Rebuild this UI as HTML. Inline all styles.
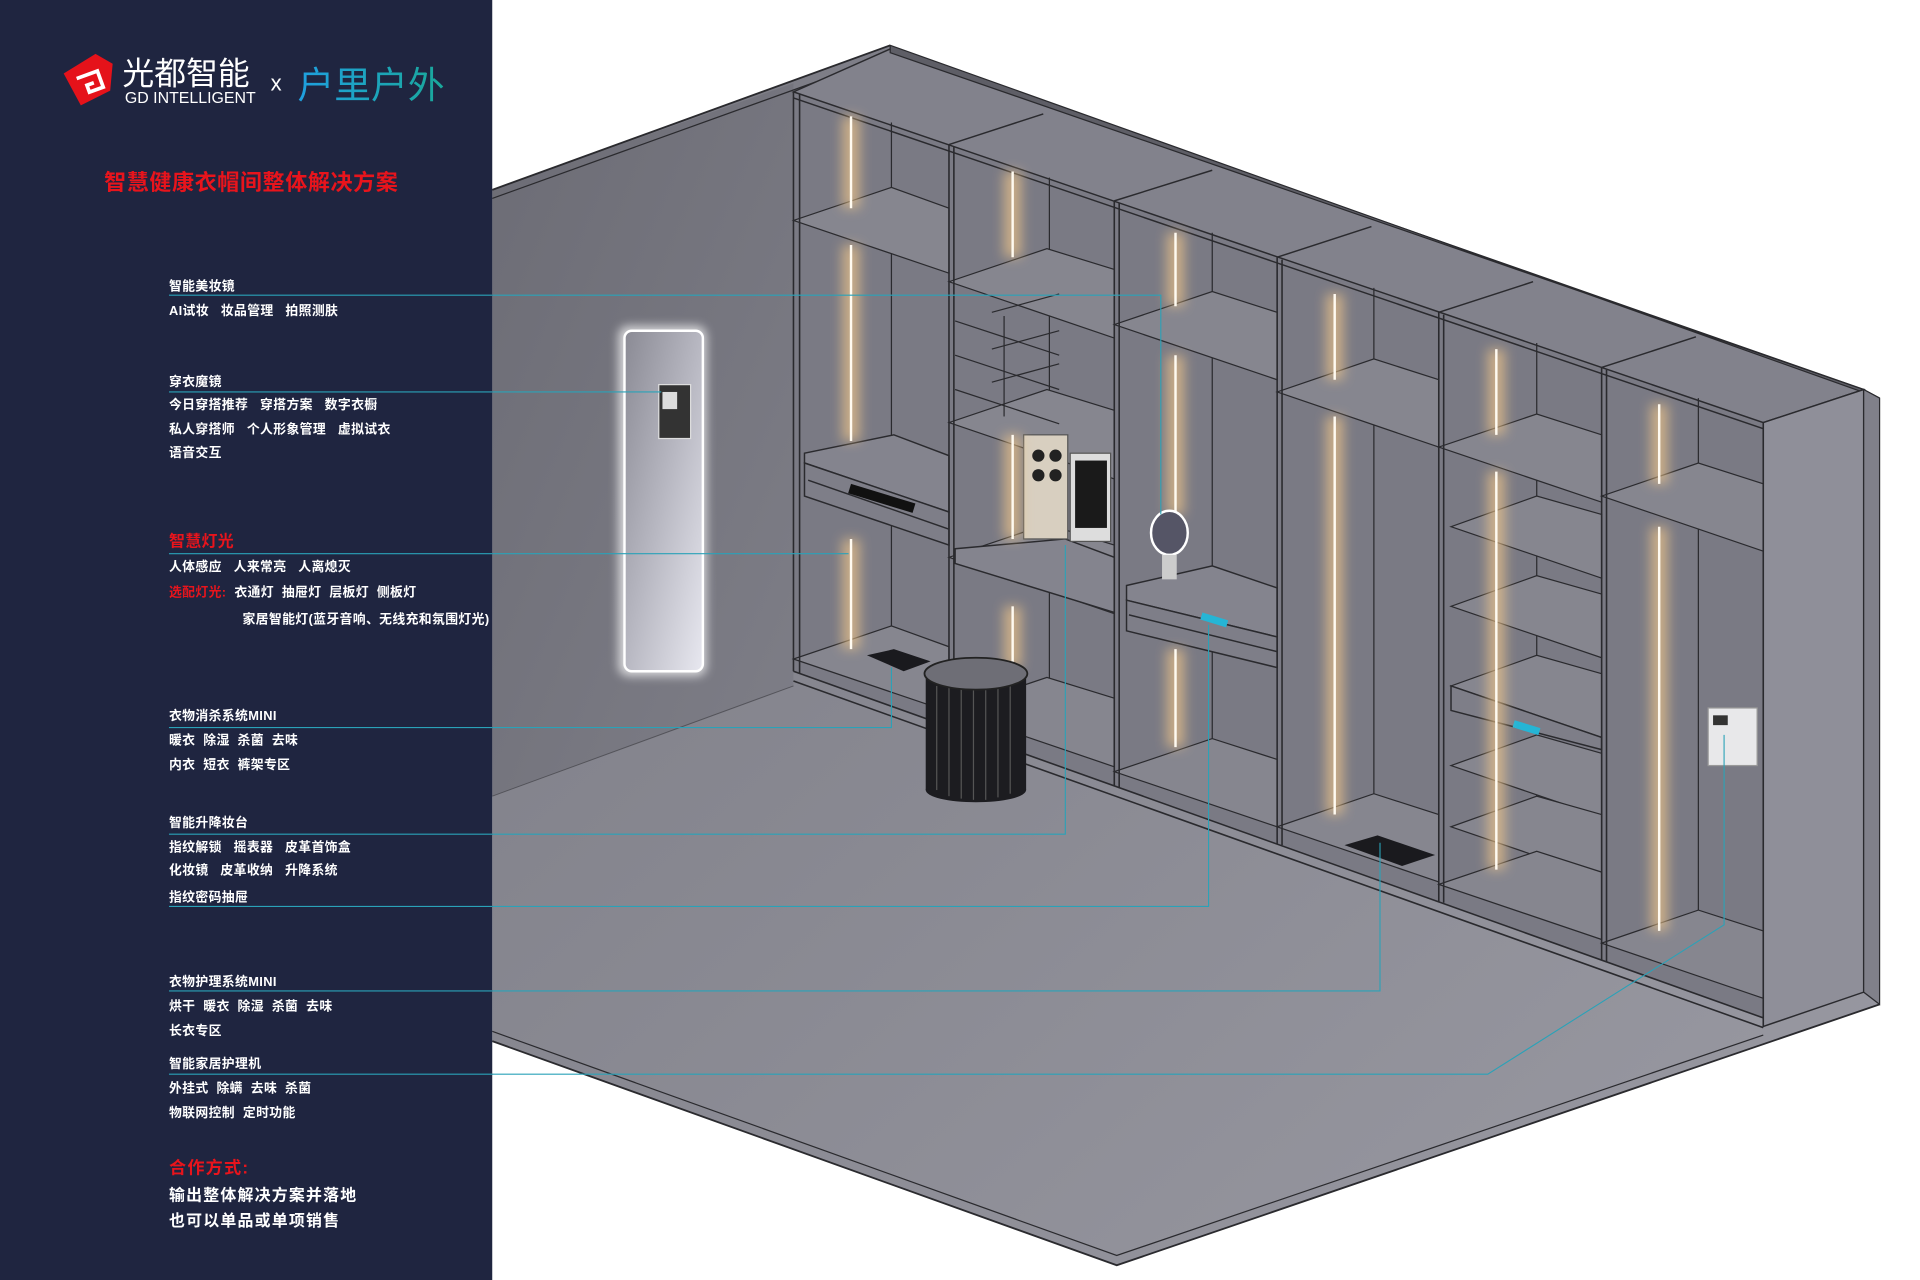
<!DOCTYPE html>
<html><head><meta charset="utf-8"><style>
html,body{margin:0;padding:0;background:#fff;}
svg{display:block;}
text{font-family:"Liberation Sans","Noto Sans CJK SC",sans-serif;white-space:pre;}
</style></head><body>
<svg width="1920" height="1280" viewBox="0 0 1568 1045" preserveAspectRatio="none" xmlns="http://www.w3.org/2000/svg" xml:space="preserve">
<defs>
<linearGradient id="fl" x1="0" y1="0" x2="1" y2="1"><stop offset="0" stop-color="#7a7a83"/><stop offset="1" stop-color="#9a9aa3"/></linearGradient>
<linearGradient id="wl" x1="0" y1="0" x2="1" y2="1"><stop offset="0" stop-color="#6c6c75"/><stop offset="1" stop-color="#7e7e87"/></linearGradient>
<linearGradient id="mir" x1="0" y1="0" x2="1" y2="1"><stop offset="0" stop-color="#8a8a94"/><stop offset="0.5" stop-color="#b8b8c2"/><stop offset="1" stop-color="#e8e8f0"/></linearGradient>
<linearGradient id="logo2" x1="0" y1="0" x2="1" y2="0"><stop offset="0" stop-color="#1fa0e0"/><stop offset="1" stop-color="#1aa89a"/></linearGradient>
<filter id="glow" x="-3" y="-0.2" width="7" height="1.4"><feGaussianBlur stdDeviation="5"/></filter>
<filter id="glow2" x="-0.5" y="-0.5" width="2" height="2"><feGaussianBlur stdDeviation="4"/></filter>
</defs>
<rect width="1568" height="1045" fill="#fff"/>
<polygon points="402,155 727,37 1535,325 1535,820 912,1033 402,850" fill="url(#fl)"/>
<polygon points="402,155 648,68 648,560 402,650" fill="url(#wl)"/>
<line x1="402" y1="155" x2="727" y2="37" stroke="#2a2a2e" stroke-width="1.5"/>
<line x1="402" y1="162" x2="727" y2="45" stroke="#2a2a2e" stroke-width="1"/>
<polyline points="402,850 912,1033 1535,820" fill="none" stroke="#2a2a2e" stroke-width="1.5"/>
<polyline points="402,842 912,1025 1440,845" fill="none" stroke="#2a2a2e" stroke-width="1"/>
<line x1="648" y1="560" x2="402" y2="650" stroke="#2a2a2e" stroke-width="0.8" opacity="0.5"/>
<polygon points="648,75 1440,345 1440,831 648,548" fill="#7a7a84"/>
<polygon points="648,75 727,40 1522,318 1440,345" fill="#82828c" stroke="#2a2a2e" stroke-width="1.2"/>
<polygon points="727,37 1535,325 1522,318 727,43" fill="#5e5e66" stroke="#2a2a2e" stroke-width="1"/>
<g stroke="#2a2a2e" stroke-width="1.2" fill="none">
<line x1="775" y1="118" x2="852" y2="93"/><line x1="910" y1="164" x2="990" y2="139"/><line x1="1043" y1="210" x2="1120" y2="185"/><line x1="1175" y1="255" x2="1252" y2="230"/><line x1="1308" y1="300" x2="1385" y2="275"/>
<line x1="648" y1="80" x2="1440" y2="350"/>
</g>
<polygon points="1440,345 1522,318 1522,810 1440,838" fill="#8f8f99" stroke="#2a2a2e" stroke-width="1.2"/>
<polygon points="1522,318 1535,325 1535,820 1522,810" fill="#80808a" stroke="#2a2a2e" stroke-width="1"/>
<g stroke="#2a2a2e" stroke-width="1" fill="none">
<line x1="728" y1="100" x2="728" y2="520"/><line x1="857" y1="145" x2="857" y2="560"/><line x1="990" y1="190" x2="990" y2="605"/><line x1="1122" y1="235" x2="1122" y2="655"/><line x1="1255" y1="280" x2="1255" y2="700"/><line x1="1387" y1="325" x2="1387" y2="748"/>
</g>
<g fill="#86868f" stroke="#2a2a2e" stroke-width="1">
<polygon points="648,180 775,223 775,170 728,153"/>
<polygon points="648,538 775,581 775,528 728,511"/>
<polygon points="775,230 910,276 910,220 855,203"/>
<polygon points="775,345 910,391 910,335 855,318"/>
<polygon points="775,455 910,501 910,445 855,428"/>
<polygon points="775,580 910,626 910,570 855,553"/>
<polygon points="910,265 1043,310 1043,255 990,238"/>
<polygon points="910,630 1043,675 1043,620 990,603"/>
<polygon points="1043,320 1175,365 1175,310 1122,293"/>
<polygon points="1043,675 1175,720 1175,665 1122,648"/>
<polygon points="1175,365 1308,410 1308,355 1255,338"/>
<polygon points="1185,430 1308,472 1308,420 1255,405"/>
<polygon points="1185,495 1308,537 1308,485 1255,470"/>
<polygon points="1185,560 1308,602 1308,550 1255,535"/>
<polygon points="1185,625 1308,667 1308,615 1255,600"/>
<polygon points="1185,675 1308,717 1308,665 1255,650"/>
<polygon points="1175,722 1308,767 1308,712 1255,695"/>
<polygon points="1308,405 1440,450 1440,395 1387,378"/>
<polygon points="1308,770 1440,815 1440,760 1387,743"/>
</g>
<g stroke="#2a2a2e" stroke-width="1" fill="none">
<line x1="780" y1="262" x2="865" y2="290"/><line x1="780" y1="290" x2="865" y2="318"/><line x1="780" y1="318" x2="865" y2="346"/><line x1="820" y1="258" x2="820" y2="340"/>
<line x1="810" y1="255" x2="865" y2="240"/><line x1="810" y1="285" x2="865" y2="270"/><line x1="810" y1="312" x2="865" y2="297"/>
</g>
<g stroke="#2a2a2e" stroke-width="1.2">
<polygon points="657,370 730,355 775,372 775,418 657,378" fill="#84848e"/>
<polygon points="657,378 775,418 775,445 657,405" fill="#7e7e88"/>
<line x1="660" y1="392" x2="775" y2="432"/>
<polygon points="920,478 990,462 1043,480 1043,520 920,490" fill="#84848e"/>
<polygon points="920,490 1043,520 1043,545 920,515" fill="#7e7e88"/>
<line x1="922" y1="502" x2="1043" y2="532"/>
<polygon points="780,448 870,440 910,455 910,500 780,460" fill="#84848e"/>
<polygon points="1185,560 1308,602 1308,612 1185,580" fill="#7e7e88"/>
</g>
<rect x="695" y="395" width="55" height="8" fill="#111" transform="rotate(17 695 395)"/>
<rect x="982" y="500" width="22" height="6" fill="#25b5d5" transform="rotate(17 982 500)"/>
<rect x="1237" y="588" width="22" height="6" fill="#25b5d5" transform="rotate(17 1237 588)"/>
<g stroke="#2a2a2e" stroke-width="1.3">
<line x1="648" y1="75" x2="648" y2="548"/><line x1="653" y1="77" x2="653" y2="550"/>
<line x1="775" y1="118" x2="775" y2="593"/><line x1="779" y1="120" x2="779" y2="594"/>
<line x1="910" y1="164" x2="910" y2="642"/><line x1="914" y1="166" x2="914" y2="643"/>
<line x1="1043" y1="210" x2="1043" y2="689"/><line x1="1047" y1="212" x2="1047" y2="690"/>
<line x1="1175" y1="255" x2="1175" y2="736"/><line x1="1179" y1="257" x2="1179" y2="737"/>
<line x1="1308" y1="300" x2="1308" y2="784"/><line x1="1312" y1="302" x2="1312" y2="785"/>
<line x1="1440" y1="345" x2="1440" y2="838"/>
<line x1="648" y1="548" x2="1440" y2="831"/><line x1="648" y1="556" x2="1440" y2="839"/>
</g>
<rect x="836" y="355" width="36" height="85" fill="#d8cfc0" stroke="#555"/>
<circle cx="848" cy="372" r="5" fill="#222"/><circle cx="862" cy="372" r="5" fill="#222"/><circle cx="848" cy="388" r="5" fill="#222"/><circle cx="862" cy="388" r="5" fill="#222"/>
<rect x="874" y="370" width="33" height="72" fill="#ddd" stroke="#555"/><rect x="878" y="376" width="26" height="55" fill="#1a1a1a"/>
<g stroke="#f0c68a" stroke-width="14" opacity="0.7" filter="url(#glow)">
<line x1="695" y1="95" x2="695" y2="170"/><line x1="695" y1="200" x2="695" y2="360"/><line x1="695" y1="440" x2="695" y2="530"/>
<line x1="827" y1="140" x2="827" y2="210"/><line x1="827" y1="355" x2="827" y2="440"/><line x1="827" y1="495" x2="827" y2="545"/>
<line x1="960" y1="190" x2="960" y2="250"/><line x1="960" y1="290" x2="960" y2="420"/><line x1="960" y1="530" x2="960" y2="610"/>
<line x1="1090" y1="240" x2="1090" y2="310"/><line x1="1090" y1="340" x2="1090" y2="665"/>
<line x1="1222" y1="285" x2="1222" y2="355"/><line x1="1222" y1="385" x2="1222" y2="710"/>
<line x1="1355" y1="330" x2="1355" y2="395"/><line x1="1355" y1="430" x2="1355" y2="760"/>
</g>
<g stroke="#fffaf0" stroke-width="2">
<line x1="695" y1="95" x2="695" y2="170"/><line x1="695" y1="200" x2="695" y2="360"/><line x1="695" y1="440" x2="695" y2="530"/>
<line x1="827" y1="140" x2="827" y2="210"/><line x1="827" y1="355" x2="827" y2="440"/><line x1="827" y1="495" x2="827" y2="545"/>
<line x1="960" y1="190" x2="960" y2="250"/><line x1="960" y1="290" x2="960" y2="420"/><line x1="960" y1="530" x2="960" y2="610"/>
<line x1="1090" y1="240" x2="1090" y2="310"/><line x1="1090" y1="340" x2="1090" y2="665"/>
<line x1="1222" y1="285" x2="1222" y2="355"/><line x1="1222" y1="385" x2="1222" y2="710"/>
<line x1="1355" y1="330" x2="1355" y2="395"/><line x1="1355" y1="430" x2="1355" y2="760"/>
</g>
<polygon points="708,535 730,530 760,540 738,548" fill="#1a1a1e"/>
<polygon points="1098,690 1125,682 1172,698 1145,707" fill="#1a1a1e"/>
<rect x="756" y="550" width="82" height="95" fill="#1c1c20"/>
<ellipse cx="797" cy="645" rx="41" ry="10" fill="#1c1c20"/>
<g stroke="#555" stroke-width="1"><line x1="765" y1="560" x2="765" y2="645"/><line x1="775" y1="560" x2="775" y2="650"/><line x1="785" y1="560" x2="785" y2="652"/><line x1="795" y1="560" x2="795" y2="653"/><line x1="805" y1="560" x2="805" y2="653"/><line x1="815" y1="560" x2="815" y2="651"/><line x1="825" y1="560" x2="825" y2="648"/></g>
<ellipse cx="797" cy="550" rx="42" ry="13" fill="#6e6e76" stroke="#222" stroke-width="1.5"/>
<rect x="505" y="266" width="72" height="286" rx="8" fill="#fff" opacity="0.7" filter="url(#glow2)"/>
<rect x="510" y="270" width="64" height="278" rx="6" fill="url(#mir)" stroke="#fff" stroke-width="2"/>
<rect x="538" y="314" width="26" height="44" fill="#333" stroke="#ddd"/><rect x="541" y="320" width="12" height="14" fill="#ddd"/>
<ellipse cx="955" cy="435" rx="15" ry="18" fill="#556" stroke="#fff" stroke-width="2"/>
<rect x="949" y="453" width="12" height="20" fill="#ccc"/>
<rect x="1395" y="578" width="40" height="47" fill="#e8e8ea" stroke="#999"/><rect x="1399" y="584" width="12" height="8" fill="#333"/>
<g stroke="#2aa2b8" stroke-width="0.9" fill="none">
<polyline points="138,241 948,241 948,420"/>
<polyline points="138,320 540,320"/>
<polyline points="138,452 693,452"/>
<polyline points="138,594 728,594 728,545"/>
<polyline points="138,681 870,681 870,445"/>
<polyline points="138,740 987,740 987,510"/>
<polyline points="138,809 1127,809 1127,688"/>
<polyline points="138,877 1215,877 1408,755 1408,600"/>
</g>
<rect x="0" y="0" width="402" height="1045" fill="#1f2540"/>
<g stroke="#2aa2b8" stroke-width="0.9">
<line x1="138" y1="241" x2="402" y2="241"/><line x1="138" y1="320" x2="402" y2="320"/><line x1="138" y1="452" x2="402" y2="452"/><line x1="138" y1="594" x2="402" y2="594"/><line x1="138" y1="681" x2="402" y2="681"/><line x1="138" y1="740" x2="402" y2="740"/><line x1="138" y1="809" x2="402" y2="809"/><line x1="138" y1="877" x2="402" y2="877"/>
</g>
<polygon points="52,60 78,44 92,52 90,74 66,86" fill="#e5121a"/>
<path d="M64,60 h18 v14 h-12 v-6 h6" stroke="#fff" stroke-width="3" fill="none" transform="rotate(-20 75 66)"/>
<text x="100" y="69" font-size="26" fill="#fff">光都智能</text>
<text x="102" y="84" font-size="13" fill="#fff" font-family="Liberation Serif,serif">GD INTELLIGENT</text>
<text x="221" y="74" font-size="18" fill="#fff">x</text>
<text x="243" y="80" font-size="30" fill="url(#logo2)">户里户外</text>
<text x="85" y="155" font-size="18" font-weight="bold" fill="#e8141c" letter-spacing="0.5">智慧健康衣帽间整体解决方案</text>
<g font-size="10.5" fill="#fff" font-weight="bold" letter-spacing="0.3">
<text x="138" y="237">智能美妆镜</text>
<text x="138" y="257">AI试妆   妆品管理   拍照测肤</text>
<text x="138" y="315">穿衣魔镜</text>
<text x="138" y="334">今日穿搭推荐   穿搭方案   数字衣橱</text>
<text x="138" y="354">私人穿搭师   个人形象管理   虚拟试衣</text>
<text x="138" y="373">语音交互</text>
<text x="138" y="446" font-size="13" fill="#e8141c">智慧灯光</text>
<text x="138" y="466">人体感应   人来常亮   人离熄灭</text>
<text x="138" y="487"><tspan fill="#e8141c">选配灯光:</tspan>  衣通灯  抽屉灯  层板灯  侧板灯</text>
<text x="198" y="509">家居智能灯(蓝牙音响、无线充和氛围灯光)</text>
<text x="138" y="588">衣物消杀系统MINI</text>
<text x="138" y="608">暖衣  除湿  杀菌  去味</text>
<text x="138" y="628">内衣  短衣  裤架专区</text>
<text x="138" y="675">智能升降妆台</text>
<text x="138" y="695">指纹解锁   摇表器   皮革首饰盒</text>
<text x="138" y="714">化妆镜   皮革收纳   升降系统</text>
<text x="138" y="736">指纹密码抽屉</text>
<text x="138" y="805">衣物护理系统MINI</text>
<text x="138" y="825">烘干  暖衣  除湿  杀菌  去味</text>
<text x="138" y="845">长衣专区</text>
<text x="138" y="872">智能家居护理机</text>
<text x="138" y="892">外挂式  除螨  去味  杀菌</text>
<text x="138" y="912">物联网控制  定时功能</text>
<text x="138" y="958" font-size="14" fill="#e8141c" letter-spacing="1">合作方式:</text>
<text x="138" y="980" font-size="13" letter-spacing="1">输出整体解决方案并落地</text>
<text x="138" y="1001" font-size="13" letter-spacing="1">也可以单品或单项销售</text>
</g>
</svg>
</body></html>
